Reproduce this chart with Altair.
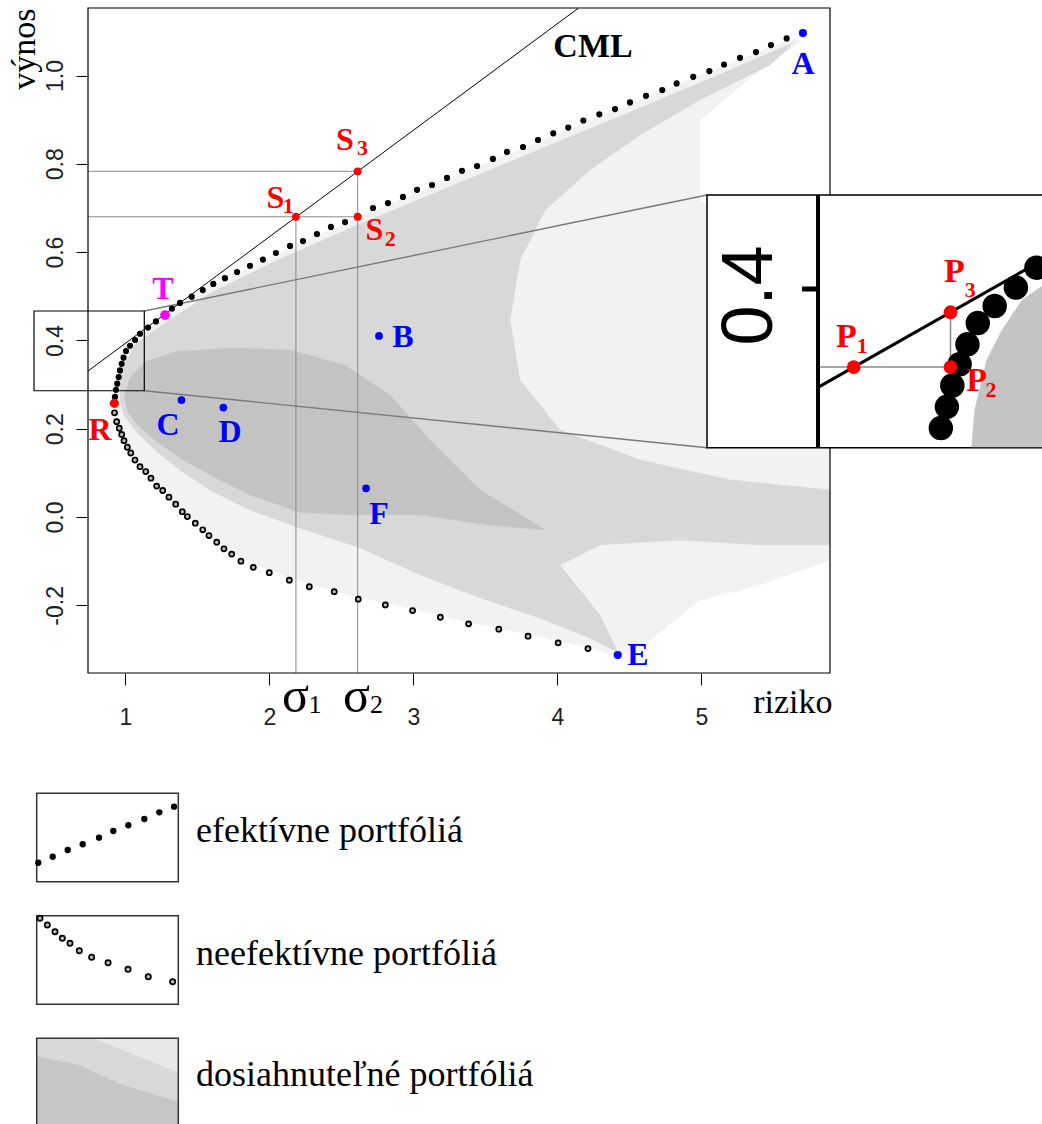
import altair as alt
import pandas as pd

# ---------------- main axes domain ----------------
X_DOM = [0.741, 5.894]
Y_DOM = [-0.3533, 1.1529]

# efficient frontier (black dots)
eff_x = [0.928, 0.935, 0.944, 0.954, 0.963, 0.975, 0.988, 1.005, 1.033, 1.068,
         1.102, 1.158, 1.213, 1.324, 1.380, 1.461, 1.538, 1.611, 1.692, 1.776,
         1.866, 1.956, 2.046, 2.144, 2.234, 2.331, 2.428, 2.526, 2.720, 2.824,
         2.928, 3.026, 3.130, 3.234, 3.338, 3.443, 3.553, 3.651, 3.762, 3.866,
         3.972, 4.076, 4.181, 4.292, 4.401, 4.505, 4.616, 4.729, 4.829, 4.944,
         5.056, 5.158, 5.269, 5.380, 5.484, 5.593]
eff_y = [0.272, 0.288, 0.302, 0.317, 0.332, 0.347, 0.361, 0.376, 0.388, 0.401,
         0.415, 0.429, 0.443, 0.472, 0.485, 0.499, 0.514, 0.528, 0.541, 0.555,
         0.569, 0.583, 0.598, 0.614, 0.625, 0.641, 0.657, 0.668, 0.700, 0.711,
         0.725, 0.741, 0.752, 0.768, 0.784, 0.795, 0.811, 0.827, 0.838, 0.854,
         0.869, 0.882, 0.898, 0.912, 0.924, 0.939, 0.954, 0.967, 0.982, 0.997,
         1.010, 1.025, 1.040, 1.053, 1.069, 1.084]

# inefficient frontier (open dots)
ineff_x = [0.925, 0.940, 0.958, 0.975, 0.991, 1.014, 1.038, 1.067, 1.102, 1.142,
           1.178, 1.218, 1.260, 1.303, 1.350, 1.396, 1.431, 1.486, 1.538, 1.581,
           1.635, 1.685, 1.739, 1.803, 1.889, 2.000, 2.139, 2.278, 2.451, 2.618,
           2.806, 2.995, 3.188, 3.384, 3.594, 3.797, 4.006, 4.213]
ineff_y = [0.236, 0.216, 0.201, 0.187, 0.173, 0.158, 0.145, 0.129, 0.114, 0.103,
           0.088, 0.070, 0.060, 0.045, 0.029, 0.012, 0.001, -0.014, -0.029, -0.042,
           -0.057, -0.072, -0.084, -0.100, -0.114, -0.126, -0.143, -0.158, -0.169, -0.186,
           -0.199, -0.212, -0.227, -0.242, -0.254, -0.270, -0.285, -0.298]

# feasible set (grey cloud) outlines, three density levels
outer_x = [0.930, 0.956, 1.019, 1.137, 1.276, 1.609, 2.047, 2.609, 3.234, 3.866,
           4.505, 5.158, 5.650, 5.685, 5.407, 4.990, 4.990, 5.894, 5.894, 5.407,
           4.990, 4.643, 4.420, 4.212, 3.797, 3.380, 2.991, 2.616, 2.276, 1.998,
           1.734, 1.581, 1.428, 1.262, 1.137, 1.033, 0.970, 0.942]
outer_y = [0.258, 0.322, 0.378, 0.424, 0.453, 0.523, 0.593, 0.677, 0.763, 0.849,
           0.935, 1.022, 1.085, 1.076, 1.012, 0.899, 0.718, 0.492, -0.097, -0.154,
           -0.188, -0.279, -0.317, -0.294, -0.265, -0.238, -0.208, -0.181, -0.152, -0.120,
           -0.079, -0.041, 0.005, 0.061, 0.106, 0.152, 0.190, 0.224]
mid_x = [0.963, 0.970, 1.067, 1.276, 1.609, 2.047, 2.609, 3.234, 3.866, 4.505,
         5.158, 5.650, 5.477, 4.991, 4.574, 4.227, 3.914, 3.741, 3.671, 3.741,
         4.019, 4.574, 5.199, 5.894, 5.894, 5.407, 4.852, 4.296, 4.019, 4.296,
         4.420, 4.226, 3.879, 3.463, 3.047, 2.630, 2.213, 1.867, 1.589, 1.380,
         1.206, 1.067, 0.991]
mid_y = [0.265, 0.328, 0.390, 0.439, 0.510, 0.580, 0.661, 0.745, 0.831, 0.917,
         1.006, 1.076, 1.024, 0.945, 0.865, 0.786, 0.695, 0.582, 0.446, 0.310,
         0.197, 0.129, 0.084, 0.061, -0.063, -0.063, -0.052, -0.063, -0.109, -0.222,
         -0.306, -0.274, -0.229, -0.183, -0.131, -0.070, -0.025, 0.016, 0.061, 0.106,
         0.152, 0.197, 0.231]
core_x = [0.992, 1.033, 1.137, 1.345, 1.727, 2.144, 2.526, 2.838, 3.116, 3.463,
          3.915, 3.533, 3.047, 2.561, 2.213, 1.867, 1.589, 1.380, 1.206, 1.088, 1.019]
core_y = [0.269, 0.315, 0.351, 0.374, 0.383, 0.378, 0.344, 0.276, 0.174, 0.061,
          -0.029, -0.018, 0.005, 0.005, 0.011, 0.050, 0.095, 0.134, 0.174, 0.208, 0.238]

# highlighted portfolios
pt_name = ["A", "B", "C", "D", "E", "F", "R", "T", "S1", "S2", "S3"]
pt_x = [5.706, 2.762, 1.390, 1.681, 4.420, 2.672, 0.924, 1.276, 2.185, 2.614, 2.614]
pt_y = [1.096, 0.410, 0.265, 0.248, -0.3126, 0.065, 0.2575, 0.4575, 0.680, 0.680, 0.783]
pt_color = ["#0000ff"] * 6 + ["#ff0000", "#ff00ff", "#ff0000", "#ff0000", "#ff0000"]
pt_size = [66, 60, 60, 60, 66, 60, 85, 95, 62, 62, 62]

# capital market line end points
cml_x = [0.741, 4.148]
cml_y = [0.3307, 1.1529]

# labels in the main panel
lab_text = ["A", "B", "C", "D", "E", "F", "R", "T", "S", "S", "S", "CML",
            "1", "2", "3"]
lab_x = [5.706, 2.928, 1.2965, 1.727, 4.560, 2.762, 0.824, 1.262, 2.042, 2.730, 2.525, 4.248,
         2.132, 2.840, 2.648]
lab_y = [1.027, 0.4077, 0.2084, 0.1925, -0.3126, 0.0068, 0.197, 0.5164, 0.7225, 0.649, 0.855, 1.0646,
         0.7044, 0.630, 0.8347]
lab_color = ["#0000ff"] * 6 + ["#ff0000", "#ff00ff", "#ff0000", "#ff0000", "#ff0000", "#000000",
                               "#ff0000", "#ff0000", "#ff0000"]
lab_size = [32] * 11 + [34, 22, 22, 22]

sig_text = ["\u03c3", "1", "\u03c3", "2"]
sig_x = [2.182, 2.318, 2.606, 2.745]
sig_y = [-0.4417, -0.444, -0.4417, -0.444]
sig_size = [50, 26, 50, 26]

# zoom box and connecting lines
box = dict(x=0.366, x2=1.132, y=0.286, y2=0.4666)
guide_x = [2.185, 2.614, 0.741, 0.741]
guide_x2 = [2.185, 2.614, 2.614, 2.614]
guide_y = [-0.3533, -0.3533, 0.783, 0.680]
guide_y2 = [0.680, 0.783, 0.783, 0.680]
conn_x = [1.132, 1.132]
conn_x2 = [5.040, 5.040]
conn_y = [0.4666, 0.286]
conn_y2 = [0.7293, 0.157]

# ---------------- inset (magnified) ----------------
IX_DOM = [0.5575, 1.1112]
IY_DOM = [0.2882, 0.4662]
icloud_x = [0.995, 1.000, 1.020, 1.045, 1.078, 1.125, 1.125]
icloud_y = [0.2885, 0.3148, 0.350, 0.371, 0.392, 0.406, 0.2885]
icml_x = [0.741, 1.160]
icml_y = [0.3307, 0.432]
p_name = ["P1", "P2", "P3"]
p_x = [0.800, 0.960, 0.960]
p_y = [0.345, 0.345, 0.3836]
plab_text = ["P", "1", "P", "2", "P", "3"]
plab_x = [0.7880, 0.8140, 1.0030, 1.0270, 0.9665, 0.9925]
plab_y = [0.366, 0.3599, 0.3352, 0.3289, 0.412, 0.3993]
plab_size = [34, 22, 34, 22, 34, 22]

# ---------------- legend ----------------
leg_text = ["efektívne portfóliá", "neefektívne portfóliá", "dosiahnuteľné portfóliá"]
leg_text_y = [0.395, 1.402, 2.393]
leg_box_y = [0.0, 1.0, 2.0]
leg_box_y2 = [0.7216, 1.7216, 2.74]
leg_eff_x = [0.011, 0.113, 0.219, 0.325, 0.440, 0.541, 0.647, 0.760, 0.866, 0.970]
leg_eff_y = [0.567, 0.518, 0.463, 0.416, 0.362, 0.308, 0.261, 0.210, 0.155, 0.109]
leg_ineff_x = [0.023, 0.075, 0.129, 0.181, 0.235, 0.301, 0.388, 0.504, 0.645, 0.788, 0.960]
leg_ineff_y = [1.020, 1.075, 1.130, 1.184, 1.224, 1.285, 1.339, 1.383, 1.437, 1.497, 1.538]
leg_dark_x = [0.0, 0.3, 0.6, 1.0, 1.0, 0.0]
leg_dark_y = [2.15, 2.22, 2.38, 2.52, 2.74, 2.74]
leg_light_x = [0.4, 1.0, 1.0]
leg_light_y = [2.0, 2.0, 2.28]

# ================= build =================
MINUS = "\u2212"
xaxis = alt.Axis(values=[1, 2, 3, 4, 5], format="d", title="riziko", grid=False, domain=False,
                 tickSize=12, tickColor="black", tickWidth=1,
                 labelFont="Liberation Sans", labelFontSize=23, labelColor="#222222",
                 labelPadding=21, labelFlush=False,
                 titleFont="Liberation Serif", titleFontSize=34, titleFontWeight="normal",
                 titleColor="black", titleX=744, titleY=39, titleAlign="right",
                 titleBaseline="alphabetic")
yaxis = alt.Axis(values=[-0.2, 0.0, 0.2, 0.4, 0.6, 0.8, 1.0], format=".1f", title="výnos",
                 grid=False, domain=False, tickSize=12, tickColor="black", tickWidth=1,
                 labelAngle=270, labelAlign="center", labelBaseline="alphabetic",
                 labelPadding=14, labelFont="Liberation Sans", labelFontSize=23,
                 labelColor="#222222", labelFlush=False,
                 labelExpr="replace(datum.label, '" + MINUS + "', '-')",
                 titleFont="Liberation Serif", titleFontSize=34, titleFontWeight="normal",
                 titleColor="black", titleAngle=270, titleX=-64, titleY=0,
                 titleAlign="right", titleBaseline="middle")

xs = alt.Scale(domain=X_DOM, nice=False, zero=False)
ys = alt.Scale(domain=Y_DOM, nice=False, zero=False)
X = alt.X("x:Q", scale=xs, axis=xaxis)
Y = alt.Y("y:Q", scale=ys, axis=yaxis)


def poly(xv, yv, color, XX, YY):
    df = pd.DataFrame({"x": xv, "y": yv, "i": list(range(len(xv)))})
    return alt.Chart(df).mark_line(fill=color, stroke=color, strokeWidth=0.6).encode(
        x=XX, y=YY, order=alt.Order("i:Q"))


def rules(x, x2, y, y2, XX, YY, **kw):
    df = pd.DataFrame({"x": x, "x2": x2, "y": y, "y2": y2})
    return alt.Chart(df).mark_rule(**kw).encode(x=XX, x2="x2:Q", y=YY, y2="y2:Q")


main_layers = [
    poly(outer_x, outer_y, "#f2f2f2", X, Y),
    poly(mid_x, mid_y, "#d8d8d8", X, Y),
    poly(core_x, core_y, "#c3c3c3", X, Y),
    rules(guide_x, guide_x2, guide_y, guide_y2, X, Y, color="#8a8a8a", strokeWidth=1),
    rules(conn_x, conn_x2, conn_y, conn_y2, X, Y, color="#7a7a7a", strokeWidth=1.4),
    rules([cml_x[0]], [cml_x[1]], [cml_y[0]], [cml_y[1]], X, Y, color="black", strokeWidth=1),
    alt.Chart(pd.DataFrame({"x": ineff_x, "y": ineff_y})).mark_circle(
        fill="#bbbbbb", stroke="black", strokeWidth=1.7, size=26, opacity=1,
        fillOpacity=1).encode(x=X, y=Y),
    alt.Chart(pd.DataFrame({"x": eff_x, "y": eff_y})).mark_circle(
        color="black", size=38, opacity=1).encode(x=X, y=Y),
    alt.Chart(pd.DataFrame({"x": pt_x, "y": pt_y, "c": pt_color, "s": pt_size, "n": pt_name})
              ).mark_circle(opacity=1).encode(
        x=X, y=Y, color=alt.Color("c:N", scale=None), size=alt.Size("s:Q", scale=None)),
    alt.Chart(pd.DataFrame({"x": lab_x, "y": lab_y, "t": lab_text, "c": lab_color, "s": lab_size})
              ).mark_text(font="Liberation Serif", fontWeight="bold", align="center",
                          baseline="middle").encode(
        x=X, y=Y, text="t:N", color=alt.Color("c:N", scale=None),
        size=alt.Size("s:Q", scale=None)),
    alt.Chart(pd.DataFrame({"x": sig_x, "y": sig_y, "t": sig_text, "s": sig_size})
              ).mark_text(font="Liberation Serif", color="black", align="center",
                          baseline="alphabetic").encode(
        x=X, y=Y, text="t:N", size=alt.Size("s:Q", scale=None)),
    alt.Chart(pd.DataFrame({"x": [X_DOM[0]], "x2": [X_DOM[1]], "y": [Y_DOM[0]], "y2": [Y_DOM[1]]})
              ).mark_rect(fillOpacity=0, stroke="black", strokeWidth=1.2).encode(
        x=X, x2="x2:Q", y=Y, y2="y2:Q"),
    alt.Chart(pd.DataFrame({"x": [box["x"]], "x2": [box["x2"]], "y": [box["y"]], "y2": [box["y2"]]})
              ).mark_rect(fillOpacity=0, stroke="black", strokeWidth=1.2).encode(
        x=X, x2="x2:Q", y=Y, y2="y2:Q"),
]
main = alt.layer(*main_layers)

# ---- inset ----
xi = alt.Scale(domain=IX_DOM, range=[619, 954], nice=False, zero=False)
yi = alt.Scale(domain=IY_DOM, range=[439.7, 187], nice=False, zero=False)
XI = alt.X("x:Q", scale=xi, axis=None)
YI = alt.Y("y:Q", scale=yi, axis=None)

blob = [(a, b) for a, b in zip(eff_x, eff_y) if b >= 0.30 and a <= 1.16]
inset_layers = [
    alt.Chart(pd.DataFrame({"x": [IX_DOM[0]], "x2": [1.30], "y": [IY_DOM[0]], "y2": [IY_DOM[1]]})
              ).mark_rect(fill="white", stroke="black", strokeWidth=1.5).encode(
        x=XI, x2="x2:Q", y=YI, y2="y2:Q"),
    poly(icloud_x, icloud_y, "#c4c4c4", XI, YI),
    rules([icml_x[0]], [icml_x[1]], [icml_y[0]], [icml_y[1]], XI, YI, color="black", strokeWidth=3),
    rules([0.741, p_x[1]], [p_x[1], p_x[2]], [p_y[0], p_y[1]], [p_y[1], p_y[2]], XI, YI,
          color="#8a8a8a", strokeWidth=1.5),
    alt.Chart(pd.DataFrame({"x": [b[0] for b in blob], "y": [b[1] for b in blob]})).mark_circle(
        color="black", size=600, opacity=1).encode(x=XI, y=YI),
    alt.Chart(pd.DataFrame({"x": p_x, "y": p_y, "n": p_name})).mark_circle(
        color="#ff0000", size=190, opacity=1).encode(x=XI, y=YI),
    alt.Chart(pd.DataFrame({"x": plab_x, "y": plab_y, "t": plab_text, "s": plab_size})
              ).mark_text(font="Liberation Serif", fontWeight="bold", color="#ff0000",
                          align="center", baseline="middle").encode(
        x=XI, y=YI, text="t:N", size=alt.Size("s:Q", scale=None)),
    rules([0.741], [0.741], [IY_DOM[0]], [IY_DOM[1]], XI, YI, color="black", strokeWidth=4),
    rules([0.7146], [0.741], [0.4], [0.4], XI, YI, color="black", strokeWidth=5),
    alt.Chart(pd.DataFrame({"x": [0.6286], "y": [0.3954], "t": ["0.4"]})).mark_text(
        font="Liberation Sans Narrow, Liberation Sans", fontSize=72, angle=270,
        align="center", baseline="middle", color="black").encode(x=XI, y=YI, text="t:N"),
]
inset = alt.layer(*inset_layers)

# ---- legend ----
xl = alt.Scale(domain=[0, 1], range=[-51.3, 90.3], nice=False, zero=False)
yl = alt.Scale(domain=[0, 3], range=[785.3, 1152.8], nice=False, zero=False)
XL = alt.X("x:Q", scale=xl, axis=None)
YL = alt.Y("y:Q", scale=yl, axis=None)

legend_layers = [
    alt.Chart(pd.DataFrame({"x": [0.0], "x2": [1.0], "y": [2.0], "y2": [2.74]})).mark_rect(
        fill="#d8d8d8").encode(x=XL, x2="x2:Q", y=YL, y2="y2:Q"),
    poly(leg_dark_x, leg_dark_y, "#c6c6c6", XL, YL),
    poly(leg_light_x, leg_light_y, "#e8e8e8", XL, YL),
    alt.Chart(pd.DataFrame({"x": [0.0] * 3, "x2": [1.0] * 3, "y": leg_box_y, "y2": leg_box_y2})
              ).mark_rect(fillOpacity=0, stroke="#333333", strokeWidth=1.5).encode(
        x=XL, x2="x2:Q", y=YL, y2="y2:Q"),
    alt.Chart(pd.DataFrame({"x": leg_eff_x, "y": leg_eff_y})).mark_circle(
        color="black", size=40, opacity=1).encode(x=XL, y=YL),
    alt.Chart(pd.DataFrame({"x": leg_ineff_x, "y": leg_ineff_y})).mark_circle(
        fill="#bbbbbb", stroke="black", strokeWidth=1.7, size=28, opacity=1,
        fillOpacity=1).encode(x=XL, y=YL),
    alt.Chart(pd.DataFrame({"x": [1.125] * 3, "y": leg_text_y, "t": leg_text})).mark_text(
        font="Liberation Serif", fontSize=36, align="left", baseline="alphabetic",
        color="black").encode(x=XL, y=YL, text="t:N"),
]
legend = alt.layer(*legend_layers)

chart = alt.layer(main, inset, legend).resolve_scale(
    x="independent", y="independent"
).properties(
    width=742, height=665,
    padding={"left": 88, "top": 8, "right": 212, "bottom": 451},
    autosize=alt.AutoSizeParams(type="none"),
).configure_view(stroke=None).configure_axis(
    labelFont="Liberation Sans", labelFontSize=23, labelColor="#222222"
)

chart.save("out.html", embed_options={"renderer": "svg", "actions": False})
